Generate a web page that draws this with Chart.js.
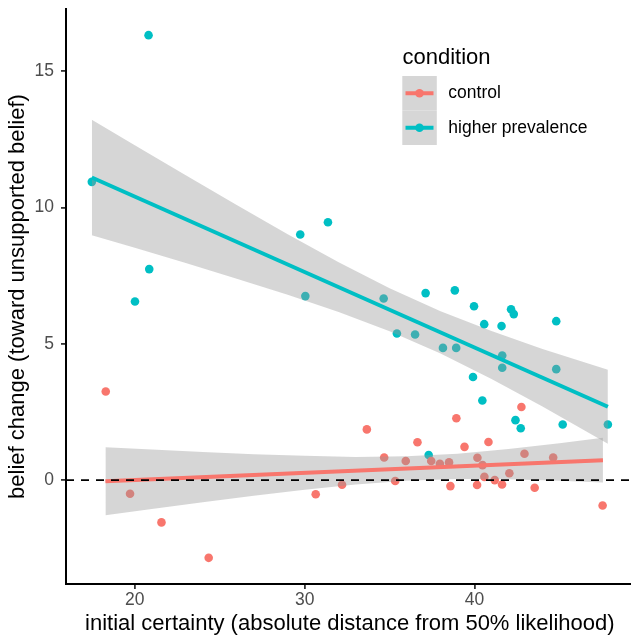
<!DOCTYPE html>
<html>
<head>
<meta charset="utf-8">
<script src="https://cdn.jsdelivr.net/npm/chart.js@4.4.1/dist/chart.umd.min.js"></script>
<style>
  html, body { margin: 0; padding: 0; background: #ffffff; overflow: hidden; width: 631px; height: 637px; }
  #wrap { position: relative; width: 638px; height: 637px; }
  canvas { display: block; }
</style>
</head>
<body>
<div id="wrap"><canvas id="chart" width="638" height="637"></canvas></div>
<script>
// ---------------- data ----------------
const conditions = ['control', 'higher prevalence'];
const legendTitle = 'condition';
const xAxisTitle = 'initial certainty (absolute distance from 50% likelihood)';
const yAxisTitle = 'belief change (toward unsupported belief)';

const controlX = [18.29, 19.72, 21.57, 24.35, 30.65, 32.20, 33.66, 34.68, 35.33, 35.95,
                  36.64, 37.45, 37.96, 38.50, 38.58, 38.93, 39.41, 40.17, 40.15, 40.47,
                  40.58, 40.82, 41.19, 41.62, 42.05, 42.76, 42.94, 43.54, 44.63, 47.54];
const controlY = [3.25, -0.50, -1.55, -2.85, -0.52, -0.17, 1.86, 0.83, -0.03, 0.70,
                  1.39, 0.70, 0.60, 0.65, -0.22, 2.27, 1.22, 0.82, -0.18, 0.55,
                  0.12, 1.40, 0.00, -0.16, 0.25, 2.68, 0.97, -0.28, 0.83, -0.93];

const higherX = [17.47, 20.81, 20.85, 20.01, 29.74, 31.37, 30.04, 34.65, 37.12, 38.84,
                 39.97, 42.15, 42.31, 40.57, 41.59, 44.81, 35.43, 36.50, 38.14, 38.92,
                 41.63, 41.63, 44.81, 39.91, 40.46, 42.41, 42.72, 45.19, 47.85, 37.30];
const higherY = [10.94, 16.32, 7.74, 6.55, 9.01, 9.46, 6.75, 6.66, 6.86, 6.96,
                 6.38, 6.27, 6.09, 5.72, 5.65, 5.83, 5.38, 5.34, 4.85, 4.85,
                 4.57, 4.12, 4.07, 3.78, 2.92, 2.20, 1.90, 2.04, 2.04, 0.92];

// fitted lines (end points) and confidence bands
const controlFitX = [18.27, 47.56];
const controlFitY = [-0.04, 0.73];
const controlBandX = [18.27, 21, 24, 27, 30, 33, 36, 39, 42, 45, 47.56];
const controlUpper = [1.21, 1.12, 1.03, 0.95, 0.89, 0.85, 0.88, 0.97, 1.14, 1.35, 1.55];
const controlLower = [-1.29, -1.06, -0.81, -0.57, -0.35, -0.16, -0.02, 0.04, 0.03, -0.02, -0.09];

const higherFitX = [17.47, 47.85];
const higherFitY = [11.10, 2.69];
const higherBandX = [17.47, 20, 23, 26, 29, 32, 35, 38, 41, 44, 47.85];
const higherUpper = [13.22, 12.28, 11.18, 10.09, 9.02, 7.99, 7.04, 6.19, 5.47, 4.81, 4.05];
const higherLower = [8.98, 8.52, 7.96, 7.39, 6.80, 6.17, 5.46, 4.64, 3.71, 2.70, 1.33];

const referenceY = 0;
const xLimits = [15.95, 49.37];
const yLimits = [-3.81, 17.28];
const xTicks = [20, 30, 40];
const yTicks = [0, 5, 10, 15];

// ---------------- styling ----------------
const RED = '#F8766D';
const TEAL = '#00BFC4';
const BAND = 'rgba(153,153,153,0.4)';
const NONE = 'rgba(0,0,0,0)';
const FONT = "'Liberation Sans', Arial, Helvetica, sans-serif";

const pts = (xs, ys) => xs.map((x, i) => ({ x: x, y: ys[i] }));

function pointSet(label, xs, ys, color, order) {
  return { type: 'scatter', label, data: pts(xs, ys), showLine: false,
    pointBackgroundColor: color, pointBorderColor: NONE, pointBorderWidth: 0,
    pointRadius: 4.3, pointHoverRadius: 4.3, order };
}
function lineSet(label, xs, ys, color, width, order, extra) {
  return Object.assign({ type: 'line', label, data: pts(xs, ys), borderColor: color,
    borderWidth: width, pointRadius: 0, pointHoverRadius: 0, fill: false, tension: 0, order }, extra || {});
}

const datasets = [
  pointSet(conditions[1], higherX, higherY, TEAL, 11),
  pointSet(conditions[0], controlX, controlY, RED, 10),
  lineSet('control band upper', controlBandX, controlUpper, NONE, 0, 5, { fill: '+1', backgroundColor: BAND }),
  lineSet('control band lower', controlBandX, controlLower, NONE, 0, 5),
  lineSet('control fit', controlFitX, controlFitY, RED, 4, 4),
  lineSet('higher band upper', higherBandX, higherUpper, NONE, 0, 3, { fill: '+1', backgroundColor: BAND }),
  lineSet('higher band lower', higherBandX, higherLower, NONE, 0, 3),
  lineSet('higher fit', higherFitX, higherFitY, TEAL, 4, 2),
  lineSet('reference', xLimits, [referenceY, referenceY], '#000000', 1.8, 0, { borderDash: [8, 7] })
];

// ---------------- legend drawn inside the panel ----------------
const ggLegend = {
  id: 'ggLegend',
  afterDraw(chart) {
    const ctx = chart.ctx;
    ctx.save();
    ctx.fillStyle = '#000000';
    ctx.font = '22px ' + FONT;
    ctx.textAlign = 'left';
    ctx.textBaseline = 'alphabetic';
    ctx.fillText(legendTitle, 402.5, 64);
    const colors = [RED, TEAL];
    conditions.forEach((label, i) => {
      const top = 76 + i * 34.5;
      const cy = top + 17.25;
      ctx.fillStyle = '#D6D6D6';
      ctx.fillRect(402.3, top, 34.5, 34.5);
      ctx.strokeStyle = colors[i];
      ctx.lineWidth = 4;
      ctx.beginPath(); ctx.moveTo(405.5, cy); ctx.lineTo(433.5, cy); ctx.stroke();
      ctx.fillStyle = colors[i];
      ctx.beginPath(); ctx.arc(419.5, cy, 4.3, 0, Math.PI * 2); ctx.fill();
      ctx.fillStyle = '#000000';
      ctx.font = '17.5px ' + FONT;
      ctx.textBaseline = 'middle';
      ctx.fillText(label, 448.3, cy);
    });
    ctx.restore();
  }
};

const axisCommon = {
  type: 'linear',
  grid: { display: true, drawOnChartArea: false, drawTicks: true, tickLength: 5,
          color: '#333333', tickColor: '#333333', tickWidth: 1.8, lineWidth: 1.8 },
  border: { display: true, color: '#000000', width: 2 }
};

new Chart(document.getElementById('chart'), {
  type: 'scatter',
  data: { datasets },
  plugins: [ggLegend],
  options: {
    responsive: false,
    animation: false,
    events: [],
    devicePixelRatio: 1,
    layout: { padding: { top: 9, left: 0, right: 0, bottom: 0 } },
    plugins: { legend: { display: false }, tooltip: { enabled: false }, title: { display: false } },
    scales: {
      x: Object.assign({}, axisCommon, {
        min: xLimits[0], max: xLimits[1],
        afterBuildTicks: s => { s.ticks = xTicks.map(v => ({ value: v })); },
        afterFit: s => { s.height = 53; s.paddingLeft = 0; s.paddingRight = 0; },
        ticks: { color: '#4D4D4D', font: { family: FONT, size: 17.5 }, padding: 1, maxRotation: 0, autoSkip: false },
        title: { display: true, text: xAxisTitle, color: '#000000', font: { family: FONT, size: 22 }, padding: { top: 0, bottom: 0 } }
      }),
      y: Object.assign({}, axisCommon, {
        min: yLimits[0], max: yLimits[1],
        afterBuildTicks: s => { s.ticks = yTicks.map(v => ({ value: v })); },
        afterFit: s => { s.width = 66; s.paddingTop = 0; s.paddingBottom = 0; },
        ticks: { color: '#4D4D4D', font: { family: FONT, size: 17.5 }, padding: 7, autoSkip: false },
        title: { display: true, text: yAxisTitle, color: '#000000', font: { family: FONT, size: 22 }, padding: { top: 5, bottom: 0 } }
      })
    }
  }
});
</script>
</body>
</html>
